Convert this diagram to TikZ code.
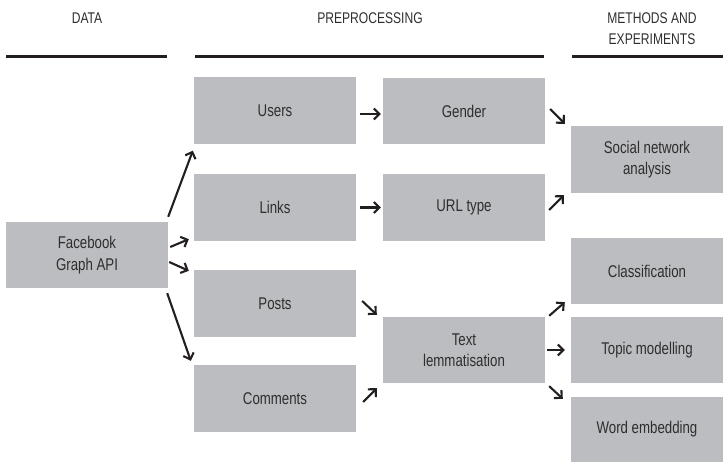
\documentclass[tikz,border=0pt]{standalone}
\usepackage{fontspec}
\setmainfont{Liberation Sans}[FakeStretch=0.78]
\usetikzlibrary{arrows.meta,calc}
\definecolor{boxgray}{HTML}{BCBDC0}
\definecolor{txtgray}{HTML}{2E2E2E}
\definecolor{arrc}{HTML}{231F20}
\begin{document}
\begin{tikzpicture}[x=1pt,y=-1pt,
  box/.style={fill=boxgray,inner sep=0pt,align=center,text=txtgray,
    font=\fontsize{17}{21.5}\selectfont,minimum width=162pt,minimum height=66pt},
  mbox/.style={box,minimum width=152pt},
  hdr/.style={text=txtgray,align=center,font=\fontsize{15.5}{21}\selectfont,inner sep=0pt},
  hline/.style={draw=arrc,line width=3pt},
  arr/.style={draw=arrc,line width=2.1pt,-{Straight Barb[length=5.5pt,width=11pt]}}]
\useasboundingbox (0,0) rectangle (723,462);
% headers
\node[hdr] (hdata) at (87,18) {DATA};
\node[hdr] (hpre) at (370,18) {PREPROCESSING};
\node[hdr] (hmeth) at (652,28.5) {METHODS AND\\EXPERIMENTS};
\draw[hline] (6,57) -- (167,57);
\draw[hline] (195,57) -- (544,57);
\draw[hline] (572,57) -- (723,57);
% boxes
\node[box] (fb) at (87,255) {Facebook\\Graph API};
\node[box,minimum height=67pt] (users) at (275,111) {Users};
\node[box,minimum height=67pt] (links) at (275,207.5) {Links};
\node[box,minimum height=67pt] (posts) at (275,303.5) {Posts};
\node[box,minimum height=67pt] (comments) at (275,398.5) {Comments};
\node[box] (gender) at (464,111) {Gender};
\node[box,minimum height=67pt] (url) at (464,207.5) {URL type};
\node[box] (text) at (464,350) {Text\\lemmatisation};
\node[mbox,minimum height=67pt] (sna) at (647,159.5) {Social network\\analysis};
\node[mbox] (class) at (647,271) {Classification};
\node[mbox] (topic) at (647,350) {Topic modelling};
\node[mbox,minimum height=65pt] (word) at (647,429.5) {Word embedding};
% arrows
\draw[arr] ($(fb.north east)+(0,-5)$) -- ($(users.south west)+(-1,6)$);
\draw[arr] ($(fb.east)+(2,-8)$) -- ($(links.south west)+(-5,-2)$);
\draw[arr] ($(fb.east)+(1,7)$) -- ($(posts.north west)+(-5,1)$);
\draw[arr] ($(fb.south east)+(-1,5)$) -- ($(comments.north west)+(-3,-4)$);
\draw[arr] ($(users.east)+(4,3)$) -- ($(gender.west)+(-2,3)$);
\draw[arr] ($(links.east)+(4,0)$) -- ($(url.west)+(-2,0)$);
\draw[arr] ($(posts.east)+(6,-2.5)$) -- ($(text.north west)+(-6,-2)$);
\draw[arr] ($(comments.east)+(7,3.5)$) -- ($(text.south west)+(-6,5)$);
\draw[arr] ($(gender.east)+(5,-2)$) -- ($(sna.north west)+(-6,-2)$);
\draw[arr] ($(url.east)+(4,2.5)$) -- ($(sna.south west)+(-7,2)$);
\draw[arr] ($(text.north east)+(4,-1)$) -- ($(class.south west)+(-6,-2)$);
\draw[arr] ($(text.east)+(2,0)$) -- ($(topic.west)+(-6,0)$);
\draw[arr] ($(text.south east)+(4,3)$) -- ($(word.north west)+(-8,2)$);
\end{tikzpicture}
\end{document}
